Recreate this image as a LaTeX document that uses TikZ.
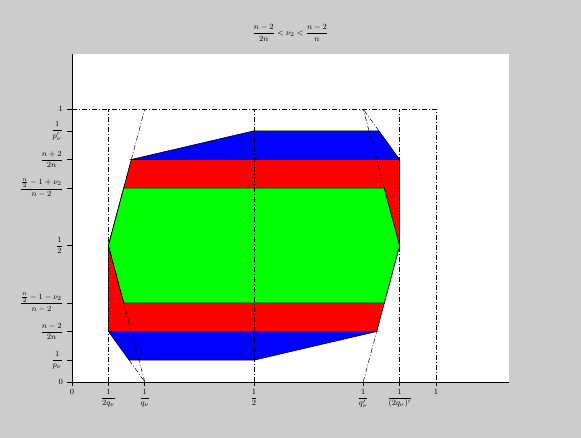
\documentclass[tikz,border=0pt]{standalone}
\usepackage{amsmath}
\definecolor{figgray}{RGB}{204,204,204}
\definecolor{rblue}{RGB}{0,0,255}
\definecolor{rred}{RGB}{255,0,0}
\definecolor{rgreen}{RGB}{0,255,0}
\begin{document}
\begin{tikzpicture}[x=364pt,y=273pt,
  dd/.style={line width=0.5pt,dash pattern=on 5pt off 2pt on 1pt off 2pt},
  reg/.style={draw=black,line width=0.6pt,line join=miter},
  lab/.style={inner sep=0pt,font=\fontsize{8}{9}\selectfont},
  ylab/.style={lab,anchor=east},
  xlab/.style={lab,anchor=north},
  ax/.style={line width=0.6pt}]
\fill[figgray] (-72pt,-56pt) rectangle (509pt,382pt);
\useasboundingbox (-72pt,-56pt) rectangle (509pt,382pt);
\fill[white] (0,0) rectangle (1.2,1.2);
% key points
\coordinate (L5) at (0.1,0.5);
\coordinate (R5) at (0.9,0.5);
\coordinate (Lyp) at (0.142,0.71);
\coordinate (Ryp) at (0.858,0.71);
\coordinate (Lyn) at (0.142,0.29);
\coordinate (Ryn) at (0.858,0.29);
\coordinate (Ly2) at (0.163,0.815);
\coordinate (Ry2) at (0.9,0.815);
\coordinate (Ly1) at (0.1,0.185);
\coordinate (Ry1) at (0.837,0.185);
\coordinate (Bl1) at (0.157,0.08);
\coordinate (Bm1) at (0.5,0.08);
\coordinate (Bm2) at (0.5,0.92);
\coordinate (Br2) at (0.843,0.92);
% regions
\filldraw[reg,fill=rred] (L5) -- (Ly2) -- (Ry2) -- (R5) -- (Ry1) -- (Ly1) -- cycle;
\filldraw[reg,fill=rgreen] (L5) -- (Lyp) -- (Ryp) -- (R5) -- (Ryn) -- (Lyn) -- cycle;
\filldraw[reg,fill=rblue] (Ly2) -- (Bm2) -- (Br2) -- (Ry2) -- cycle;
\filldraw[reg,fill=rblue] (Ly1) -- (Bl1) -- (Bm1) -- (Ry1) -- cycle;
% dash-dot guides
\coordinate (O) at (0,0);
\coordinate (Y1) at (0,1);
\coordinate (X1) at (1,0);
\coordinate (T1) at (1,1);
\coordinate (Xa) at (0.1,0);  \coordinate (Xat) at (0.1,1);
\coordinate (Xb) at (0.2,0);  \coordinate (Xbt) at (0.2,1);
\coordinate (Xc) at (0.5,0);  \coordinate (Xct) at (0.5,1);
\coordinate (Xd) at (0.8,0);  \coordinate (Xdt) at (0.8,1);
\coordinate (Xe) at (0.9,0);  \coordinate (Xet) at (0.9,1);
\draw[dd] (Y1) -- (T1) -- (X1);
\draw[dd] (Xa) -- (Xat);
\draw[dd] (Xc) -- (Xct);
\draw[dd] (Xe) -- (Xet);
\draw[dd] (Xb) -- (L5) -- (Xbt);
\draw[dd] (Xd) -- (R5) -- (Xdt);
\draw[dd] (Bl1) -- (Xb);
\draw[dd] (Br2) -- (Xdt);
% axes
\coordinate (Ytop) at (0,1.2);
\coordinate (Xend) at (1.2,0);
\draw[ax] (Ytop) -- (O) -- (Xend);
% y ticks and labels
\foreach \v/\t/\n in {0/{0}/y0, 0.08/{\displaystyle\frac{1}{p_\nu}}/ya, 0.185/{\displaystyle\frac{n-2}{2n}}/yb,
  0.29/{\displaystyle\frac{\frac{n}{2}-1-\nu_2}{n-2}}/yc, 0.5/{\displaystyle\frac{1}{2}}/yd,
  0.71/{\displaystyle\frac{\frac{n}{2}-1+\nu_2}{n-2}}/ye, 0.815/{\displaystyle\frac{n+2}{2n}}/yf,
  0.92/{\displaystyle\frac{1}{p'_\nu}}/yg, 1/{1}/yh}{
  \coordinate (\n t) at (0,\v);
  \draw[ax] (\n t) -- ++(-5pt,0) coordinate (\n e);
  \node[ylab] (\n) at ([xshift=-4pt]\n e) {$\t$};
}
% x ticks and labels
\foreach \u/\t/\n in {0/{0}/x0, 0.1/{\displaystyle\frac{1}{2q_\nu}}/xa, 0.2/{\displaystyle\frac{1}{q_\nu}}/xb,
  0.5/{\displaystyle\frac{1}{2}}/xc, 0.8/{\displaystyle\frac{1}{q'_\nu}}/xd,
  0.9/{\displaystyle\frac{1}{(2q_\nu)'}}/xe, 1/{1}/xf}{
  \coordinate (\n t) at (\u,0);
  \draw[ax] (\n t) -- ++(0,-4pt) coordinate (\n e);
  \node[xlab] (\n) at ([yshift=-3pt]\n e) {$\t$};
}
% title
\node[inner sep=0pt,anchor=base,font=\fontsize{8.5}{10}\selectfont] (title) at ([yshift=19pt]0.6,1.2)
  {$\displaystyle\frac{n-2}{2n}<\nu_2<\frac{n-2}{n}$};
\end{tikzpicture}
\end{document}
